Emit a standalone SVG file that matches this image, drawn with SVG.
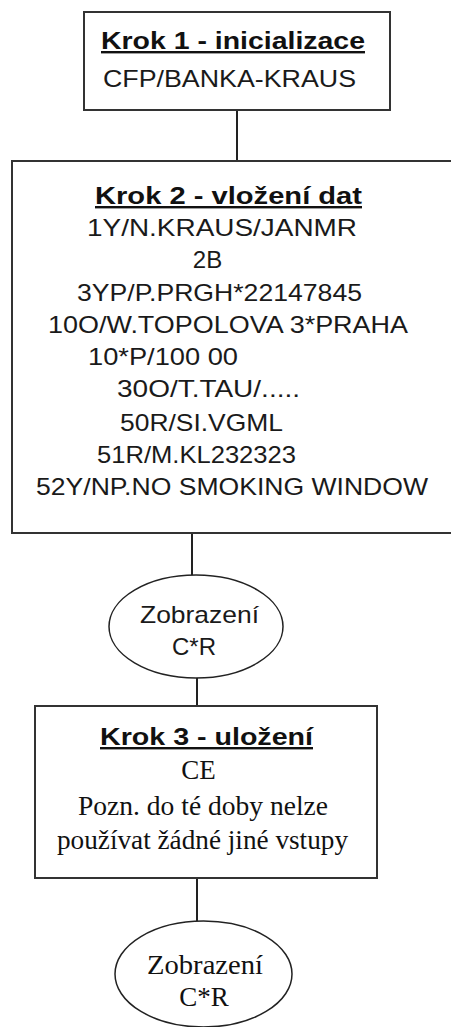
<svg xmlns="http://www.w3.org/2000/svg" width="451" height="1027" viewBox="0 0 451 1027">
<style>
.box{fill:#fff;stroke:#333;stroke-width:2}
.ell{fill:#fff;stroke:#222;stroke-width:1.5}
.con{stroke:#222;stroke-width:2;fill:none}
.t{font-family:"Liberation Sans",Arial,sans-serif;font-size:24px;fill:#1a1a1a}
.b{font-family:"Liberation Sans",Arial,sans-serif;font-size:24px;font-weight:bold;fill:#111;text-decoration:underline}
.s{font-family:"Liberation Serif","Times New Roman",serif;font-size:27px;fill:#111}
.m{text-anchor:middle}
</style>
<rect width="451" height="1027" fill="#fff"/>
<g id="connectors">
<line class="con" x1="237" y1="110" x2="237" y2="161"/>
<line class="con" x1="192" y1="533" x2="192" y2="575"/>
<line class="con" x1="197" y1="678" x2="197" y2="706"/>
<line class="con" x1="197" y1="878" x2="197" y2="921"/>
</g>
<g id="krok1">
<rect class="box" x="84" y="12" width="306" height="98"/>
<text class="b" x="101" y="49" textLength="264" lengthAdjust="spacingAndGlyphs">Krok 1 - inicializace</text>
<text class="t" x="103" y="87" textLength="253" lengthAdjust="spacingAndGlyphs">CFP/BANKA-KRAUS</text>
</g>
<g id="krok2">
<rect class="box" x="12" y="161" width="460" height="372"/>
<text class="b" x="95" y="204" textLength="267" lengthAdjust="spacingAndGlyphs">Krok 2 - vložení dat</text>
<text class="t" x="87" y="236" textLength="270" lengthAdjust="spacingAndGlyphs">1Y/N.KRAUS/JANMR</text>
<text class="t m" x="207.5" y="268">2B</text>
<text class="t" x="77" y="301" textLength="285" lengthAdjust="spacingAndGlyphs">3YP/P.PRGH*22147845</text>
<text class="t" x="48" y="333" textLength="360" lengthAdjust="spacingAndGlyphs">10O/W.TOPOLOVA 3*PRAHA</text>
<text class="t" x="88" y="365" textLength="150" lengthAdjust="spacingAndGlyphs">10*P/100 00</text>
<text class="t" x="117" y="397" textLength="183" lengthAdjust="spacingAndGlyphs">30O/T.TAU/.....</text>
<text class="t" x="120" y="431" textLength="163" lengthAdjust="spacingAndGlyphs">50R/SI.VGML</text>
<text class="t" x="97" y="463" textLength="199" lengthAdjust="spacingAndGlyphs">51R/M.KL232323</text>
<text class="t" x="36" y="495" textLength="392" lengthAdjust="spacingAndGlyphs">52Y/NP.NO SMOKING WINDOW</text>
</g>
<g id="zobrazeni1">
<ellipse class="ell" cx="196" cy="626.5" rx="87" ry="51.5"/>
<text class="t" x="140" y="623" textLength="119" lengthAdjust="spacingAndGlyphs">Zobrazení</text>
<text class="t m" x="194" y="655">C*R</text>
</g>
<g id="krok3">
<rect class="box" x="35" y="706" width="342" height="172"/>
<text class="b" x="100" y="745" textLength="213" lengthAdjust="spacingAndGlyphs">Krok 3 - uložení</text>
<text class="s m" x="198.5" y="779">CE</text>
<text class="s" x="78" y="815" textLength="250" lengthAdjust="spacingAndGlyphs">Pozn. do té doby nelze</text>
<text class="s" x="57" y="849" textLength="291" lengthAdjust="spacingAndGlyphs">používat žádné jiné vstupy</text>
</g>
<g id="zobrazeni2">
<ellipse class="ell" cx="203.5" cy="974" rx="88.5" ry="53"/>
<text class="s" x="147" y="974" textLength="116" lengthAdjust="spacingAndGlyphs">Zobrazení</text>
<text class="s m" x="204" y="1006">C*R</text>
</g>
</svg>
